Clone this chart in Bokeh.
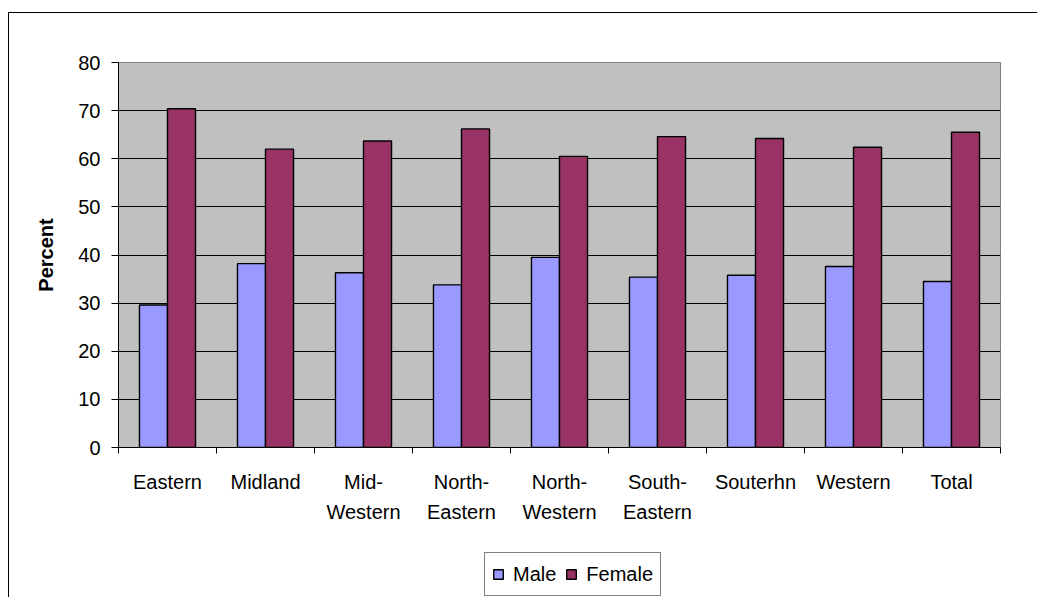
from bokeh.plotting import figure
from bokeh.layouts import column
from bokeh.models import (Range1d, FixedTicker, Legend, LegendItem, ColumnDataSource)
from bokeh.transform import dodge
from bokeh.embed import file_html
from bokeh.resources import INLINE

categories = ["Eastern", "Midland", "Mid-Western", "North-Eastern", "North-Western",
              "South-Eastern", "Souterhn", "Western", "Total"]
tick_labels = ["Eastern", "Midland", "Mid-\nWestern", "North-\nEastern", "North-\nWestern",
               "South-\nEastern", "Souterhn", "Western", "Total"]
male = [29.6, 38.2, 36.3, 33.8, 39.5, 35.4, 35.8, 37.6, 34.5]
female = [70.4, 62.0, 63.7, 66.2, 60.5, 64.6, 64.2, 62.4, 65.5]
y_ticks = [0, 10, 20, 30, 40, 50, 60, 70, 80]
series = ["Male", "Female"]
colors = ["#9999FF", "#993366"]

FONT = "Liberation Sans"
n = len(categories)
centers = [i + 0.5 for i in range(n)]  # category slot centres on the x scale
source = ColumnDataSource(dict(cat=categories, xc=centers, male=male, female=female))

p = figure(x_range=Range1d(0, n), y_range=Range1d(0, 80),
           frame_width=882, frame_height=385,
           min_border_left=109, min_border_top=49, min_border_right=37, min_border_bottom=101,
           output_backend="svg", toolbar_location=None,
           background_fill_color="#C0C0C0", border_fill_color="white",
           outline_line_color="#808080", outline_line_width=1, margin=0)

xa = p.xaxis[0]
xa.ticker = FixedTicker(ticks=centers, minor_ticks=list(range(n + 1)))
xa.major_label_overrides = {c: lab for c, lab in zip(centers, tick_labels)}
xa.major_tick_out = 0
xa.major_tick_in = 0
xa.minor_tick_out = 6
xa.minor_tick_in = 0
xa.minor_tick_line_color = "black"
xa.axis_line_color = "black"
xa.major_label_text_font = FONT
xa.major_label_text_font_size = "20px"
xa.major_label_text_color = "black"
xa.major_label_text_line_height = 1.4
xa.major_label_standoff = 17

ya = p.yaxis[0]
ya.ticker = FixedTicker(ticks=y_ticks)
ya.minor_tick_line_color = None
ya.major_tick_out = 7
ya.major_tick_in = 0
ya.major_tick_line_color = "black"
ya.axis_line_color = "black"
ya.major_label_text_font = FONT
ya.major_label_text_font_size = "20px"
ya.major_label_text_color = "black"
ya.major_label_standoff = 11
ya.axis_label = "Percent"
ya.axis_label_text_font = FONT
ya.axis_label_text_font_size = "20px"
ya.axis_label_text_font_style = "bold"
ya.axis_label_text_color = "black"
ya.axis_label_standoff = 18

p.xgrid.grid_line_color = None
p.ygrid.grid_line_color = "black"
p.ygrid.grid_line_width = 1
p.ygrid.ticker = FixedTicker(ticks=y_ticks)

bw = 0.286
p.vbar(x=dodge("xc", -bw / 2), top="male", width=bw, source=source,
       fill_color=colors[0], line_color="black", line_width=1.4)
p.vbar(x=dodge("xc", bw / 2), top="female", width=bw, source=source,
       fill_color=colors[1], line_color="black", line_width=1.4)

# legend strip below the chart (its own small canvas, so nothing clips it);
# its proxy bars are hidden renderers, only their legend swatches are drawn
lf = figure(width=1028, height=49, x_range=Range1d(0, n), y_range=Range1d(0, 80),
            output_backend="svg", toolbar_location=None,
            x_axis_location=None, y_axis_location=None,
            min_border=0, min_border_left=0, min_border_right=0,
            min_border_top=0, min_border_bottom=0,
            background_fill_color="white", border_fill_color="white",
            outline_line_color=None, margin=0)
lf.grid.grid_line_color = None
items = []
for name, col, field in zip(series, colors, ["male", "female"]):
    r = lf.vbar(x="xc", top=field, width=bw, source=source,
                fill_color=col, line_color="black", line_width=1.4, visible=False)
    items.append(LegendItem(label=name, renderers=[r]))

legend = Legend(items=items, orientation="horizontal", location=(366, 1),
                label_text_font=FONT, label_text_font_size="20px", label_text_color="black",
                glyph_width=12, glyph_height=12, label_standoff=9, spacing=9,
                padding=7, margin=0, label_height=28,
                border_line_color="black", border_line_width=1,
                background_fill_color="white", background_fill_alpha=1,
                inactive_fill_alpha=0)
lf.add_layout(legend, "center")

layout = column(p, lf, spacing=0, margin=(12, 0, 0, 8))
layout.styles = {"border-left": "1px solid black", "border-top": "1px solid black"}

open("out.html", "w").write(file_html(layout, INLINE))
